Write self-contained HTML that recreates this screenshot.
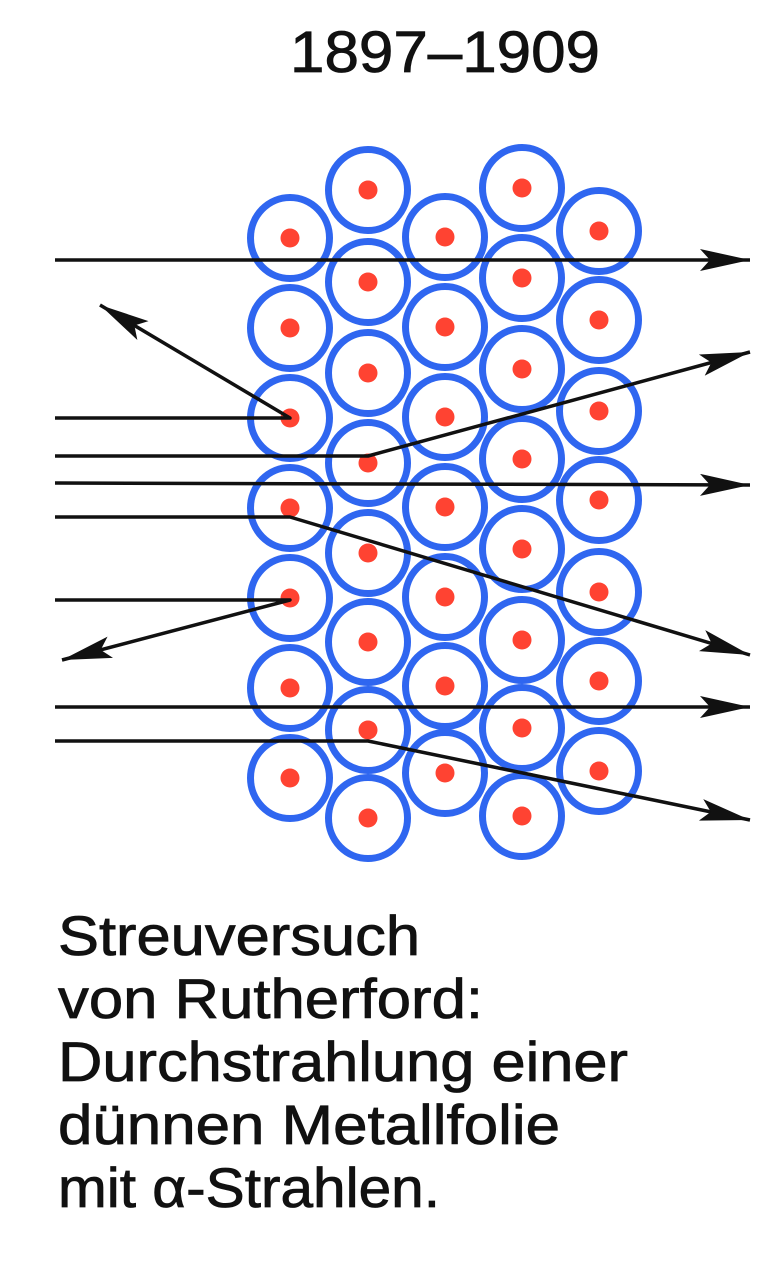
<!DOCTYPE html>
<html><head><meta charset="utf-8"><style>
html,body{margin:0;padding:0;background:#fff;}
body{width:777px;height:1262px;overflow:hidden;position:relative;}
svg{position:absolute;left:0;top:0;}
</style></head><body>
<svg width="777" height="1262" viewBox="0 0 777 1262">
<defs>
<marker id="a" markerWidth="50" markerHeight="22" refX="50" refY="11" orient="auto" markerUnits="userSpaceOnUse">
<path d="M0,0 L50,11 L0,22 L10,11 Z" fill="#111"/>
</marker>
<g id="k"><ellipse rx="39.5" ry="40.5" fill="#fff" stroke="#2f66f0" stroke-width="7"/><circle r="9.5" fill="#ff4332"/></g>
</defs>
<text x="290" y="72" font-family="Liberation Sans, sans-serif" font-size="58" textLength="310" lengthAdjust="spacingAndGlyphs" fill="#111" stroke="#111" stroke-width="0.8">1897–1909</text>
<g>
<use href="#k" x="290" y="238"/><use href="#k" x="290" y="328"/><use href="#k" x="290" y="418"/><use href="#k" x="290" y="508"/><use href="#k" x="290" y="598"/><use href="#k" x="290" y="688"/><use href="#k" x="290" y="778"/>
<use href="#k" x="368" y="190"/><use href="#k" x="368" y="282"/><use href="#k" x="368" y="373"/><use href="#k" x="368" y="463"/><use href="#k" x="368" y="553"/><use href="#k" x="368" y="642"/><use href="#k" x="368" y="730"/><use href="#k" x="368" y="818"/>
<use href="#k" x="445" y="237"/><use href="#k" x="445" y="327"/><use href="#k" x="445" y="417"/><use href="#k" x="445" y="507"/><use href="#k" x="445" y="597"/><use href="#k" x="445" y="686"/><use href="#k" x="445" y="773"/>
<use href="#k" x="522" y="188"/><use href="#k" x="522" y="278"/><use href="#k" x="522" y="369"/><use href="#k" x="522" y="459"/><use href="#k" x="522" y="549"/><use href="#k" x="522" y="640"/><use href="#k" x="522" y="728"/><use href="#k" x="522" y="816"/>
<use href="#k" x="599" y="231"/><use href="#k" x="599" y="320"/><use href="#k" x="599" y="411"/><use href="#k" x="599" y="500"/><use href="#k" x="599" y="592"/><use href="#k" x="599" y="681"/><use href="#k" x="599" y="771"/>
</g>
<g fill="none" stroke="#111" stroke-width="3.5" stroke-linejoin="round">
<path d="M55,260 L750,260" marker-end="url(#a)"/>
<path d="M55,418 L290,418 L100,305" marker-end="url(#a)"/>
<path d="M55,456 L368,456 L750,352" marker-end="url(#a)"/>
<path d="M55,483 L750,485" marker-end="url(#a)"/>
<path d="M55,517 L290,517 L750,655" marker-end="url(#a)"/>
<path d="M55,600 L290,600 L62,660" marker-end="url(#a)"/>
<path d="M55,707 L750,707" marker-end="url(#a)"/>
<path d="M55,741 L368,741 L750,820" marker-end="url(#a)"/>
</g>
<g font-family="Liberation Sans, sans-serif" font-size="56" fill="#111" stroke="#111" stroke-width="0.8">
<text x="58" y="955" textLength="362" lengthAdjust="spacingAndGlyphs">Streuversuch</text>
<text x="58" y="1018" textLength="425" lengthAdjust="spacingAndGlyphs">von Rutherford:</text>
<text x="58" y="1081" textLength="570" lengthAdjust="spacingAndGlyphs">Durchstrahlung einer</text>
<text x="58" y="1144" textLength="502" lengthAdjust="spacingAndGlyphs">dünnen Metallfolie</text>
<text x="58" y="1207" textLength="382" lengthAdjust="spacingAndGlyphs">mit α-Strahlen.</text>
</g>
</svg>
</body></html>
